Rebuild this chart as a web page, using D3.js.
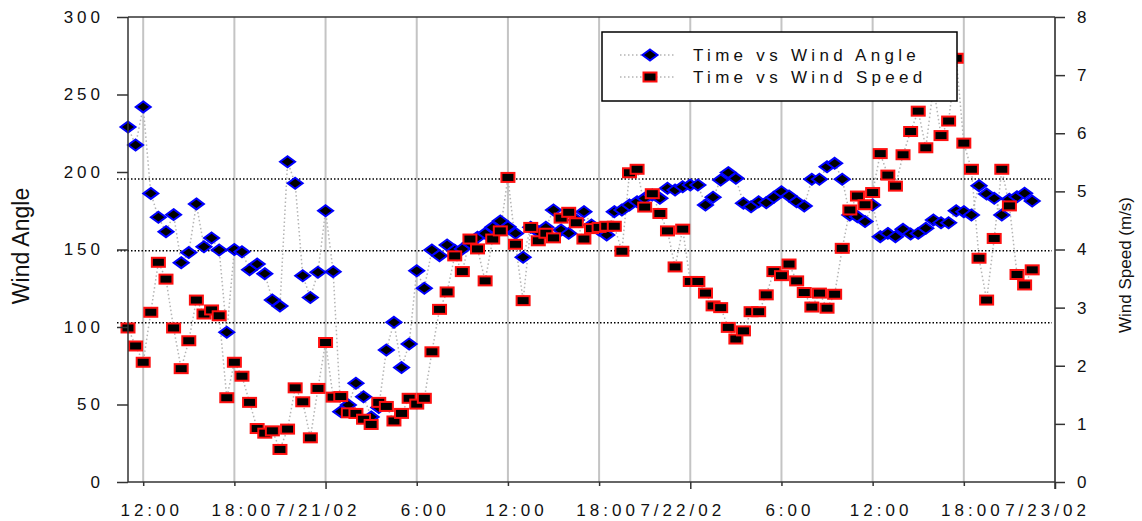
<!DOCTYPE html>
<html>
<head>
<meta charset="utf-8">
<script src="https://cdn.jsdelivr.net/npm/d3@7"></script>
<style>
  body { margin: 0; background: #fff; }
  svg { display: block; font-family: "Liberation Sans", Arial, sans-serif; }
</style>
</head>
<body>
<svg id="chart" width="1142" height="521"></svg>
<script>
// Logger readings, one every 30 minutes starting 7/20/02 11:00
const startTime = new Date(2002, 6, 20, 11, 0);
const endTime = new Date(2002, 6, 23, 0, 0);
const stepMinutes = 30;

// Wind direction (degrees)
const windAngle = [
  229, 217.4, 242, 186.2, 170.8, 161.5, 172.5, 141.5, 148, 179.4,
  151.8, 157.4, 149.7, 96.6, 150, 148.5, 137, 140.6, 134.4, 117.4,
  113.5, 206.6, 192.7, 133.1, 119, 135.3, 175, 135.7, 45.4, 49.7,
  63.7, 55, 42, 48, 85.2, 103, 73.8, 89, 136.3, 125,
  149.7, 146, 152.9, 149.5, 150.3, 154, 157.9, 160.4, 164.3, 168.4,
  164.7, 160.4, 145, 164.3, 161.5, 164.3, 175.5, 162.6, 160.4, 169,
  174.4, 165.8, 162.6, 159.4, 174.4, 175.5, 178.7, 180.8, 183, 185.2,
  183, 189.5, 188.4, 190.5, 191.6, 191.6, 178.7, 183.7, 194.8, 199.6,
  195.9, 179.8, 177.6, 180.8, 180.2, 183.7, 187.3, 184.5, 180.8, 178,
  195.3, 195.3, 203.4, 205.6, 195.3, 172.3, 171.2, 168, 178.7, 158.3,
  160.4, 158.3, 163, 160, 160.4, 163.7, 169, 167.3, 167.3, 175,
  174.4, 172.3, 191.2, 185.8, 183, 172.3, 182.4, 184, 186.3, 181.3
];

// Wind speed (m/s)
const windSpeed = [
  2.65, 2.34, 2.06, 2.92, 3.78, 3.49, 2.65, 1.95, 2.43, 3.13,
  2.89, 2.96, 2.86, 1.45, 2.06, 1.82, 1.37, 0.92, 0.84, 0.88,
  0.56, 0.91, 1.62, 1.38, 0.76, 1.61, 2.40, 1.46, 1.47, 1.19,
  1.18, 1.08, 0.99, 1.37, 1.30, 1.05, 1.18, 1.44, 1.34, 1.44,
  2.24, 2.97, 3.27, 3.89, 3.62, 4.18, 4.01, 3.46, 4.18, 4.32,
  5.24, 4.09, 3.12, 4.38, 4.15, 4.28, 4.20, 4.54, 4.64, 4.46,
  4.18, 4.36, 4.38, 4.40, 4.40, 3.97, 5.32, 5.38, 4.73, 4.96,
  4.62, 4.32, 3.70, 4.35, 3.45, 3.45, 3.25, 3.03, 3.00, 2.66,
  2.46, 2.60, 2.93, 2.93, 3.22, 3.62, 3.55, 3.75, 3.46, 3.26,
  3.01, 3.25, 2.99, 3.23, 4.02, 4.68, 4.92, 4.77, 4.98, 5.65,
  5.28, 5.09, 5.63, 6.03, 6.38, 5.75, 6.80, 5.96, 6.21, 7.29,
  5.83, 5.38, 3.85, 3.13, 4.19, 5.38, 4.75, 3.57, 3.39, 3.65
];

// Time axis ticks
const tickTimes = [
  "2002-07-20T12:00", "2002-07-20T18:00", "2002-07-21T00:00", "2002-07-21T06:00",
  "2002-07-21T12:00", "2002-07-21T18:00", "2002-07-22T00:00", "2002-07-22T06:00",
  "2002-07-22T12:00", "2002-07-22T18:00", "2002-07-23T00:00"
];
const tickLabels = [
  "12:00", "18:00", "7/21/02", "6:00", "12:00", "18:00", "7/22/02",
  "6:00", "12:00", "18:00", "7/23/02"
];
const angleTicks = [0, 50, 100, 150, 200, 250, 300];
const speedTicks = [0, 1, 2, 3, 4, 5, 6, 7, 8];
const refLines = [195.5, 149.2, 102.8];
const legendLabels = ["Time vs Wind Angle", "Time vs Wind Speed"];

const parseTime = d3.timeParse("%Y-%m-%dT%H:%M");
const ticks = tickTimes.map(parseTime);

const svg = d3.select("#chart");
const L = 128, R = 1055, T = 17, B = 482;

const x = d3.scaleTime().domain([startTime, endTime]).range([L, R]);
const yA = d3.scaleLinear().domain([0, 300]).range([B, T]);
const yS = d3.scaleLinear().domain([0, 8]).range([B, T]);

const angleData = windAngle.map((v, i) => ({ t: d3.timeMinute.offset(startTime, i * stepMinutes), v }));
const speedData = windSpeed.map((v, i) => ({ t: d3.timeMinute.offset(startTime, i * stepMinutes), v }));

// Vertical grid at every time tick
svg.append("g").selectAll("line").data(ticks).join("line")
  .attr("x1", d => x(d)).attr("x2", d => x(d))
  .attr("y1", T).attr("y2", B)
  .attr("stroke", "#c4c4c4").attr("stroke-width", 2);

// Dotted reference lines
svg.append("g").selectAll("line").data(refLines).join("line")
  .attr("x1", L - 11).attr("x2", R - 3)
  .attr("y1", d => yA(d)).attr("y2", d => yA(d))
  .attr("stroke", "#000").attr("stroke-width", 1.5)
  .attr("stroke-dasharray", "1.5,2");

// Connecting lines
const lineA = d3.line().x(d => x(d.t)).y(d => yA(d.v));
const lineS = d3.line().x(d => x(d.t)).y(d => yS(d.v));
const lineStyle = sel => sel.attr("fill", "none").attr("stroke", "#b4b4b4")
  .attr("stroke-width", 1.5).attr("stroke-dasharray", "1.5,2.5");
svg.append("path").datum(angleData).attr("d", lineA).call(lineStyle);
svg.append("path").datum(speedData).attr("d", lineS).call(lineStyle);

// Markers
const diamond = "M0,-5.5L7.5,0L0,5.5L-7.5,0Z";
svg.append("g").selectAll("path").data(angleData).join("path")
  .attr("d", diamond)
  .attr("transform", d => `translate(${x(d.t)},${yA(d.v)})`)
  .attr("fill", "#000").attr("stroke", "#0000ff").attr("stroke-width", 2);

svg.append("g").selectAll("rect").data(speedData).join("rect")
  .attr("x", d => x(d.t) - 6.5).attr("y", d => yS(d.v) - 4.5)
  .attr("width", 13).attr("height", 9)
  .attr("fill", "#000").attr("stroke", "#ff1010").attr("stroke-width", 2);

// Axes
const axisStyle = g => {
  g.select(".domain").remove();
  g.selectAll("line").attr("stroke", "#333").attr("stroke-width", 1.5);
  g.selectAll("text").attr("fill", "#111").style("font-size", "17px")
    .style("font-family", "'Liberation Sans', Arial, sans-serif");
};

svg.append("g").attr("transform", `translate(${L},0)`)
  .call(d3.axisLeft(yA).tickValues(angleTicks).tickSize(11).tickPadding(13))
  .call(axisStyle)
  .call(g => g.selectAll("text").style("letter-spacing", "4px"));

svg.append("g").attr("transform", `translate(${R},0)`)
  .call(d3.axisRight(yS).tickValues(speedTicks).tickSize(10).tickPadding(12))
  .call(axisStyle);

const xAxis = svg.append("g").attr("transform", `translate(0,${B})`)
  .call(d3.axisBottom(x).tickValues(ticks).tickFormat((d, i) => tickLabels[i]).tickSize(4))
  .call(axisStyle);
xAxis.selectAll(".tick").each(function (d) {
  const midnight = d.getHours() === 0;
  const g = d3.select(this);
  g.select("line").attr("y2", midnight ? 7 : 4);
  g.select("text").attr("y", 34).attr("dy", 0)
    .attr("dx", midnight ? -8 : 8)
    .style("letter-spacing", "4px");
});

// Frame lines
const frame = svg.append("g").attr("stroke", "#333").attr("stroke-width", 1.5);
frame.append("line").attr("x1", L).attr("x2", L).attr("y1", T).attr("y2", B);
frame.append("line").attr("x1", R).attr("x2", R).attr("y1", T).attr("y2", B + 7);
frame.append("line").attr("x1", L).attr("x2", R).attr("y1", B).attr("y2", B);
frame.append("line").attr("x1", L).attr("x2", R).attr("y1", T).attr("y2", T);

// Axis titles
svg.append("text")
  .attr("transform", "translate(29,246) rotate(-90)")
  .attr("text-anchor", "middle").style("font-size", "23px").attr("fill", "#111")
  .text("Wind Angle");
svg.append("text")
  .attr("transform", "translate(1131,265) rotate(-90)")
  .attr("text-anchor", "middle").style("font-size", "17px").attr("fill", "#111")
  .text("Wind Speed (m/s)");

// Legend
const legend = svg.append("g");
legend.append("rect").attr("x", 602).attr("y", 32).attr("width", 355).attr("height", 69)
  .attr("fill", "#fff").attr("stroke", "#000").attr("stroke-width", 1.5);
const rows = [55, 77];
legendLabels.forEach((label, i) => {
  const cy = rows[i];
  legend.append("line").attr("x1", 620).attr("x2", 676).attr("y1", cy).attr("y2", cy)
    .call(lineStyle);
  if (i === 0) {
    legend.append("path").attr("d", diamond).attr("transform", `translate(650,${cy})`)
      .attr("fill", "#000").attr("stroke", "#0000ff").attr("stroke-width", 2);
  } else {
    legend.append("rect").attr("x", 650 - 6.5).attr("y", cy - 4.5).attr("width", 13).attr("height", 9)
      .attr("fill", "#000").attr("stroke", "#ff1010").attr("stroke-width", 2);
  }
  legend.append("text").attr("x", 693).attr("y", cy + 6)
    .style("font-size", "17px").style("letter-spacing", "4.3px").attr("fill", "#111")
    .text(label);
});
</script>
</body>
</html>
